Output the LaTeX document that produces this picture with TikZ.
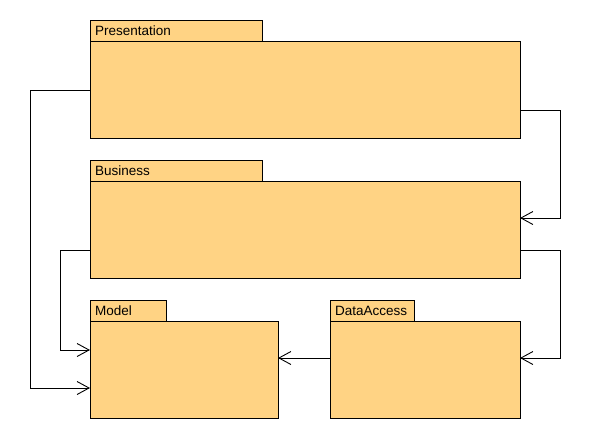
\documentclass[tikz,border=0pt]{standalone}
\usepackage{fontspec}
\setmainfont{Liberation Sans}
\usetikzlibrary{arrows.meta}
\definecolor{pkgfill}{RGB}{255,211,132}
\tikzset{
  pkg/.style={draw=black,fill=pkgfill,line width=1pt},
  pkglabel/.style={anchor=west,inner sep=0pt,font=\fontsize{13.5}{15}\selectfont},
  dep/.style={draw=black,line width=1pt,-{Straight Barb[length=12pt,width=13pt,line width=0.9pt]}}
}
\begin{document}
\begin{tikzpicture}[x=1pt,y=-1pt]
\useasboundingbox (0,0) rectangle (600,440);
% Presentation
\draw[pkg] (90,20) rectangle (262,41);
\draw[pkg] (90,41) rectangle (520,138);
\node[pkglabel] (presL) at (95,31) {Presentation};
\coordinate (presW) at (90,90);
\coordinate (presE) at (520,110);
% Business
\draw[pkg] (90,160) rectangle (262,181);
\draw[pkg] (90,181) rectangle (520,278);
\node[pkglabel] (busL) at (95,171) {Business};
\coordinate (busW) at (90,250);
\coordinate (busE) at (520,250);
\coordinate (busIn) at (520,218);
% Model
\draw[pkg] (90,300) rectangle (166,321);
\draw[pkg] (90,321) rectangle (278,418);
\node[pkglabel] (modL) at (95,311) {Model};
\coordinate (modIn1) at (90,350);
\coordinate (modIn2) at (90,388);
\coordinate (modE) at (278,358);
% DataAccess
\draw[pkg] (330,300) rectangle (414,321);
\draw[pkg] (330,321) rectangle (520,418);
\node[pkglabel] (daL) at (335,311) {DataAccess};
\coordinate (daW) at (330,358);
\coordinate (daIn) at (520,358);
% dependencies
\draw[dep] (presW) -- (30,90) -- (30,388) -- (modIn2);
\draw[dep] (presE) -- (560,110) -- (560,218) -- (busIn);
\draw[dep] (busW) -- (60,250) -- (60,350) -- (modIn1);
\draw[dep] (busE) -- (560,250) -- (560,358) -- (daIn);
\draw[dep] (daW) -- (modE);
\end{tikzpicture}
\end{document}
